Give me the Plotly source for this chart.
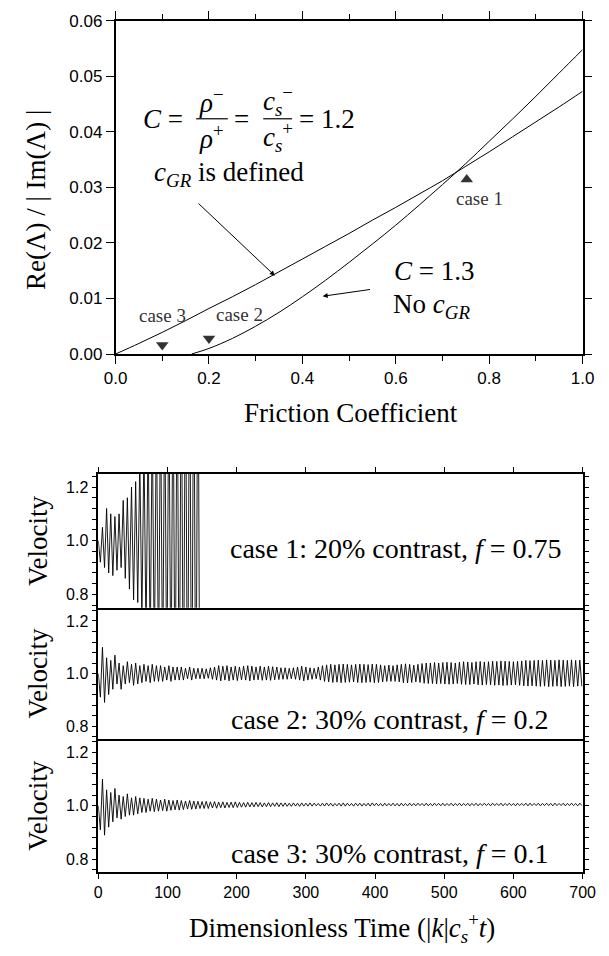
import plotly.graph_objects as go

# ---------------- data: top panel ----------------
friction_a = [0.0, 0.05, 0.1, 0.15, 0.2, 0.25, 0.3, 0.35, 0.4, 0.45, 0.5,
              0.55, 0.6, 0.65, 0.7, 0.75, 0.8, 0.85, 0.9, 0.95, 1.0]
ratio_c12 = [0.0, 0.0019, 0.0039, 0.006, 0.0082, 0.0103, 0.0125, 0.0148, 0.0171, 0.0194, 0.0217,
             0.0241, 0.0264, 0.0288, 0.0312, 0.0338, 0.0364, 0.0391, 0.0418, 0.0445, 0.0473]
friction_b = [0.163, 0.2, 0.25, 0.3, 0.35, 0.4, 0.45, 0.5, 0.55, 0.6, 0.65,
              0.7, 0.75, 0.8, 0.85, 0.9, 0.95, 1.0]
ratio_c13 = [0.0, 0.001, 0.0028, 0.005, 0.0075, 0.0103, 0.0133, 0.0165, 0.0198, 0.0232, 0.0268,
             0.0305, 0.0343, 0.0383, 0.0423, 0.0464, 0.0506, 0.0548]

case_f = [0.1, 0.2, 0.752]
case_r = [0.0016, 0.0028, 0.0314]
case_symbols = ["triangle-down", "triangle-down", "triangle-up"]

# ---------------- data: velocity time series (successive extremes) ----------------
TIME_STEP = 3.0
case1_v = [1.00, 0.92, 1.05, 0.90, 1.12, 0.88, 1.10, 0.87, 1.09, 0.89,
           1.10, 0.90, 1.15, 0.86, 1.16, 0.82, 1.20, 0.78, 1.22, 0.77,
           1.31, 0.70, 1.36, 0.64, 1.42, 0.58, 1.47, 0.53, 1.52, 0.48,
           1.56, 0.44, 1.60, 0.40, 1.64, 0.36, 1.68, 0.32, 1.72, 0.28,
           1.76, 0.24, 1.80, 0.20, 1.84, 0.16, 1.88, 0.12, 1.92, 0.08]
case2_v = [1.00, 0.91, 1.10, 0.89, 1.06, 0.92, 1.05, 0.94, 1.07, 0.96,
           1.04, 0.94, 1.03, 0.96, 1.045, 0.965, 1.035, 0.955, 1.04, 0.96,
           1.03, 0.965, 1.035, 0.97, 1.03, 0.965, 1.035, 0.97, 1.03, 0.97,
           1.03, 0.97, 1.025, 0.975, 1.03, 0.97, 1.025, 0.975, 1.025, 0.975,
           1.025, 0.975, 1.02, 0.98, 1.025, 0.975, 1.02, 0.98, 1.02, 0.98,
           1.02, 0.98, 1.018, 0.982, 1.022, 0.978, 1.025, 0.975, 1.03, 0.972,
           1.028, 0.975, 1.03, 0.972, 1.025, 0.975, 1.028, 0.973, 1.025, 0.976,
           1.028, 0.975, 1.03, 0.972, 1.028, 0.975, 1.025, 0.976, 1.028, 0.974,
           1.025, 0.975, 1.028, 0.974, 1.026, 0.976, 1.025, 0.977, 1.022, 0.978,
           1.022, 0.978, 1.02, 0.98, 1.022, 0.978, 1.025, 0.975, 1.028, 0.972,
           1.025, 0.975, 1.022, 0.978, 1.02, 0.98, 1.025, 0.975, 1.03, 0.97,
           1.033, 0.968, 1.035, 0.966, 1.033, 0.967, 1.035, 0.965, 1.036, 0.966,
           1.035, 0.967, 1.033, 0.968, 1.035, 0.966, 1.036, 0.965, 1.035, 0.966,
           1.034, 0.967, 1.036, 0.965, 1.035, 0.966, 1.033, 0.968, 1.03, 0.97,
           1.032, 0.97, 1.03, 0.97, 1.033, 0.968, 1.035, 0.965, 1.037, 0.964,
           1.035, 0.966, 1.032, 0.968, 1.035, 0.966, 1.038, 0.963, 1.04, 0.962,
           1.04, 0.962, 1.042, 0.96, 1.04, 0.962, 1.042, 0.96, 1.043, 0.959,
           1.042, 0.96, 1.04, 0.962, 1.043, 0.959, 1.045, 0.958, 1.044, 0.958,
           1.042, 0.96, 1.045, 0.957, 1.046, 0.956, 1.044, 0.958, 1.045, 0.957,
           1.047, 0.955, 1.046, 0.956, 1.048, 0.954, 1.047, 0.955, 1.046, 0.956,
           1.045, 0.957, 1.047, 0.955, 1.048, 0.953, 1.05, 0.952, 1.049, 0.953,
           1.05, 0.952, 1.051, 0.951, 1.05, 0.952, 1.052, 0.95, 1.051, 0.951,
           1.05, 0.952, 1.052, 0.95, 1.051, 0.951, 1.05, 0.952, 1.052, 0.95,
           1.05, 0.952, 1.051, 0.951]
case3_v = [1.00, 0.91, 1.10, 0.89, 1.06, 0.92, 1.05, 0.94, 1.065, 0.955,
           1.04, 0.95, 1.035, 0.96, 1.045, 0.965, 1.03, 0.965, 1.035, 0.97,
           1.03, 0.975, 1.028, 0.975, 1.025, 0.98, 1.028, 0.978, 1.025, 0.98,
           1.022, 0.982, 1.025, 0.98, 1.022, 0.983, 1.02, 0.985, 1.022, 0.984,
           1.02, 0.986, 1.018, 0.988, 1.02, 0.987, 1.018, 0.988, 1.017, 0.99,
           1.016, 0.99, 1.017, 0.99, 1.015, 0.992, 1.016, 0.991, 1.014, 0.993,
           1.015, 0.992, 1.013, 0.994, 1.014, 0.993, 1.015, 0.994, 1.013, 0.995,
           1.012, 0.995, 1.013, 0.996, 1.012, 0.996, 1.013, 0.997, 1.012, 0.996,
           1.011, 0.997, 1.012, 0.997, 1.011, 0.998, 1.012, 0.997, 1.011, 0.998,
           1.011, 0.998, 1.01, 0.998, 1.011, 0.999, 1.01, 0.998, 1.011, 0.999,
           1.010, 0.999, 1.011, 0.999, 1.010, 1.000, 1.009, 0.999, 1.010, 0.999,
           1.011, 1.000, 1.010, 0.999, 1.009, 1.000, 1.010, 0.999, 1.011, 0.999,
           1.010, 1.000, 1.009, 0.999, 1.010, 1.000, 1.010, 0.999, 1.009, 1.000,
           1.010, 0.999, 1.011, 1.000, 1.010, 1.000, 1.009, 0.999, 1.010, 1.000,
           1.009, 1.000, 1.010, 1.000, 1.009, 0.999, 1.010, 1.000, 1.009, 1.000,
           1.010, 1.000, 1.009, 1.000, 1.010, 1.001, 1.009, 1.000, 1.010, 1.000,
           1.009, 1.000, 1.010, 1.001, 1.009, 1.000, 1.010, 1.000, 1.009, 1.001,
           1.010, 1.000, 1.009, 1.001, 1.010, 1.000, 1.009, 1.001, 1.010, 1.000,
           1.009, 1.001, 1.010, 1.000, 1.009, 1.001, 1.010, 1.001, 1.009, 1.000,
           1.010, 1.001, 1.009, 1.001, 1.010, 1.000, 1.009, 1.001, 1.010, 1.001,
           1.009, 1.000, 1.010, 1.001, 1.009, 1.001, 1.010, 1.000, 1.010, 1.001,
           1.009, 1.001, 1.010, 1.000, 1.009, 1.001, 1.010, 1.001, 1.009, 1.000,
           1.010, 1.001, 1.009, 1.001, 1.010, 1.000, 1.009, 1.001, 1.010, 1.001,
           1.009, 1.000, 1.010, 1.001]

case_texts = ["case 1: 20% contrast, <i>f</i> = 0.75",
              "case 2: 30% contrast, <i>f</i> = 0.2",
              "case 3: 30% contrast, <i>f</i> = 0.1"]

# ---------------- layout helpers ----------------
W, H = 609, 956
SERIF = "Liberation Serif, Times New Roman, serif"
SANS = "Liberation Sans, Arial, sans-serif"


def px(x):
    return x / W


def py(y):
    return 1 - y / H


def times(vals):
    return [i * TIME_STEP for i in range(len(vals))]


fig = go.Figure()

# top panel curves
fig.add_trace(go.Scatter(x=friction_a, y=ratio_c12, mode="lines",
                         line=dict(color="black", width=1, shape="spline"),
                         xaxis="x", yaxis="y", hoverinfo="skip"))
fig.add_trace(go.Scatter(x=friction_b, y=ratio_c13, mode="lines",
                         line=dict(color="black", width=1, shape="spline"),
                         xaxis="x", yaxis="y", hoverinfo="skip"))
for f, r, s in zip(case_f, case_r, case_symbols):
    fig.add_trace(go.Scatter(x=[f], y=[r], mode="markers",
                             marker=dict(symbol=s, size=11, color="#333333",
                                         line=dict(width=0)),
                             xaxis="x", yaxis="y", hoverinfo="skip"))

# velocity panels
for i, vals in enumerate([case1_v, case2_v, case3_v]):
    fig.add_trace(go.Scatter(x=times(vals), y=vals, mode="lines",
                             line=dict(color="black", width=0.9),
                             xaxis=f"x{i + 2}", yaxis=f"y{i + 2}", hoverinfo="skip"))

top_x = [px(108), px(595)]
bot_x = [px(90), px(595)]
panel_y = [(474, 611), (611, 745), (745, 881)]

layout = dict(
    width=W, height=H, margin=dict(l=0, r=0, t=0, b=0),
    paper_bgcolor="white", plot_bgcolor="white", showlegend=False,
    xaxis=dict(domain=top_x, range=[0, 1], anchor="y", dtick=0.2, tickformat=".1f",
               ticks="outside", ticklen=8, tickwidth=1, tickcolor="black",
               minor=dict(dtick=0.1, ticks="outside", ticklen=5, tickcolor="black"),
               showline=True, linewidth=1.5, linecolor="black", mirror="ticks",
               showgrid=False, zeroline=False,
               tickfont=dict(family=SANS, size=17, color="black")),
    yaxis=dict(domain=[py(352), py(12)], range=[0, 0.06], anchor="x", dtick=0.01,
               tickformat=".2f", ticks="outside", ticklen=8, tickwidth=1, tickcolor="black",
               showline=True, linewidth=1.5, linecolor="black", mirror="ticks",
               showgrid=False, zeroline=False,
               tickfont=dict(family=SANS, size=17, color="black")),
)

for i in range(3):
    n = i + 2
    y0, y1 = panel_y[i]
    xa = dict(domain=bot_x, range=[0, 700], anchor=f"y{n}", dtick=100,
              showline=True, linewidth=1.5, linecolor="black", mirror=False,
              showgrid=False, zeroline=False,
              tickfont=dict(family=SANS, size=16, color="black"))
    if i == 0:
        xa.update(side="top", ticks="outside", ticklen=5, tickcolor="black",
                  showticklabels=False, mirror=True)
    elif i == 1:
        xa.update(ticks="", showticklabels=False)
    else:
        xa.update(ticks="outside", ticklen=5, tickcolor="black")
    ya = dict(domain=[py(y1), py(y0)], range=[0.75, 1.25], anchor=f"x{n}",
              tickvals=[0.8, 1.0, 1.2], tickformat=".1f",
              ticks="outside", ticklen=5, tickcolor="black",
              minor=dict(dtick=0.04, ticks="outside", ticklen=5, tickcolor="black"),
              showline=True, linewidth=1.5, linecolor="black", mirror="ticks",
              showgrid=False, zeroline=False,
              tickfont=dict(family=SANS, size=16, color="black"))
    layout[f"xaxis{n}"] = xa
    layout[f"yaxis{n}"] = ya

fig.update_layout(**layout)

ann = []


def text(x, y, s, size=27, family=SERIF, color="black", angle=0):
    ann.append(dict(x=px(x), y=py(y), xref="paper", yref="paper", text=s,
                    showarrow=False, xanchor="center", yanchor="middle",
                    textangle=angle, font=dict(family=family, size=size, color=color)))


# axis titles
text(25, 195, "Re(Λ) / | Im(Λ) |", angle=-90)
text(354, 412, "Friction Coefficient")
text(344, 938, "Dimensionless Time (|<i>k</i>|<i>c</i><sub><i>s</i></sub><sup>+</sup><i>t</i>)")
for yc in [543, 678, 813]:
    text(27, yc, "Velocity", angle=-90)

# panel captions
text(400, 550, case_texts[0], size=28)
text(394, 725, case_texts[1], size=28)
text(394, 862, case_texts[2], size=28)

# formula in the top panel
text(157, 112, "<i>C</i> =")
text(208, 94, "<i>ρ</i><sup>−</sup>")
text(208, 131, "<i>ρ</i><sup>+</sup>")
text(239, 112, "=")
text(277, 94, "<i>c</i><sub><i>s</i></sub><sup>−</sup>")
text(277, 131, "<i>c</i><sub><i>s</i></sub><sup>+</sup>")
text(329, 112, "= 1.2")
text(226, 168, "<i>c</i><sub><i>GR</i></sub> is defined")
text(441, 267, "<i>C</i> = 1.3")
text(437, 303, "No <i>c</i><sub><i>GR</i></sub>")

# case labels
text(157, 313, "case 3", size=19, color="#333333")
text(237, 312, "case 2", size=19, color="#333333")
text(488, 193, "case 1", size=19, color="#333333")

# arrows (data coordinates)
ann.append(dict(x=0.341, y=0.0141, ax=0.1745, ay=0.02735, xref="x", yref="y",
                axref="x", ayref="y", text="", showarrow=True, arrowhead=2,
                arrowsize=1, arrowwidth=1, arrowcolor="black"))
ann.append(dict(x=0.4435, y=0.0104, ax=0.548, ay=0.01165, xref="x", yref="y",
                axref="x", ayref="y", text="", showarrow=True, arrowhead=2,
                arrowsize=1, arrowwidth=1, arrowcolor="black"))

shapes = [
    dict(type="line", xref="paper", yref="paper", x0=px(192), x1=px(225),
         y0=py(112), y1=py(112), line=dict(color="black", width=1.2)),
    dict(type="line", xref="paper", yref="paper", x0=px(262), x1=px(292),
         y0=py(112), y1=py(112), line=dict(color="black", width=1.2)),
]

fig.update_layout(annotations=ann, shapes=shapes)
fig.write_html("out.html")
